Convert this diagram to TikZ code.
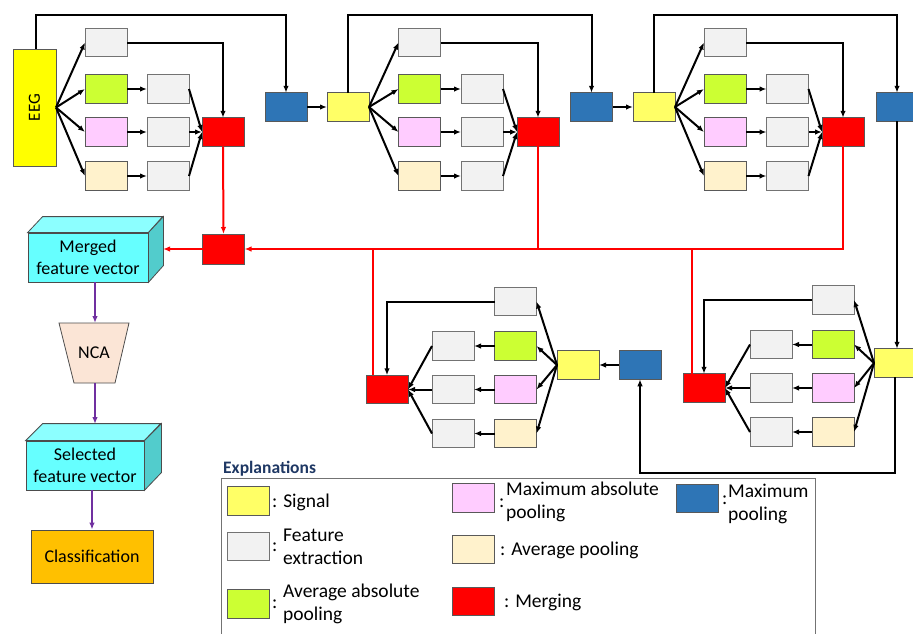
\documentclass[tikz,border=0pt]{standalone}
\usepackage{fontspec}
\setmainfont{Carlito}
\usetikzlibrary{arrows.meta}
\definecolor{sigY}{HTML}{FFFF66}
\definecolor{eegY}{HTML}{FFFF00}
\definecolor{feG}{HTML}{F2F2F2}
\definecolor{aapG}{HTML}{CCFF33}
\definecolor{mapP}{HTML}{FFCCFF}
\definecolor{apB}{HTML}{FFF2CC}
\definecolor{mpB}{HTML}{2E75B6}
\definecolor{mrgR}{HTML}{FF0000}
\definecolor{cyF}{HTML}{66FFFF}
\definecolor{cyT}{HTML}{8CFFFF}
\definecolor{cyS}{HTML}{52CCCC}
\definecolor{ncaC}{HTML}{FBE5D6}
\definecolor{clsC}{HTML}{FFC000}
\definecolor{purp}{HTML}{7030A0}
\definecolor{navy}{HTML}{1F3864}
\tikzset{
  bx/.style={draw=black!65, line width=0.8pt, minimum width=42pt, minimum height=28.5pt, inner sep=0pt, outer sep=0pt},
  sig/.style={bx, fill=sigY},
  fe/.style={bx, fill=feG, draw=black!55},
  aap/.style={bx, fill=aapG},
  map/.style={bx, fill=mapP},
  ap/.style={bx, fill=apB},
  mrg/.style={bx, fill=mrgR},
  mp/.style={bx, fill=mpB},
  conn/.style={line width=2pt, black, -{Latex[length=7pt,width=5.5pt]}},
  rline/.style={line width=2pt, mrgR},
  rconn/.style={rline, -{Latex[length=7pt,width=5.5pt]}},
  pconn/.style={line width=2pt, purp, -{Latex[length=7pt,width=5.5pt]}},
  txt/.style={font=\fontsize{18}{22}\selectfont, inner sep=0pt},
  ltxt/.style={font=\fontsize{19.5}{23}\selectfont, inner sep=0pt, anchor=base west},
  cub/.style={draw=black!70, line width=0.8pt},
}
% forward block: #1 prefix, #2 col1 x, #3 col2 x, #4 merge x
\newcommand{\fwdblock}[4]{%
  \node[fe]  (#1a0) at (#2,42.5) {};
  \node[aap] (#1a1) at (#2,89) {};
  \node[map] (#1a2) at (#2,132) {};
  \node[ap]  (#1a3) at (#2,176) {};
  \node[fe]  (#1b1) at (#3,89) {};
  \node[fe]  (#1b2) at (#3,132) {};
  \node[fe]  (#1b3) at (#3,176) {};
  \node[mrg] (#1m)  at (#4,132) {};
  \foreach \k in {1,2,3} {
    \draw[conn] (#1a\k.east) -- (#1b\k.west);
    \draw[conn] (#1b\k.east) -- (#1m.west);
  }
  \draw[conn] (#1a0.east) -| (#1m.north);
}
% backward block: #1 prefix, #2 col1 x, #3 col2 x, #4 merge x, #5 first row y
\newcommand{\bwdblock}[5]{%
  \node[fe]  (#1a0) at (#2,#5) {};
  \node[aap] (#1a1) at (#2,#5+44.5) {};
  \node[map] (#1a2) at (#2,#5+88) {};
  \node[ap]  (#1a3) at (#2,#5+132) {};
  \node[fe]  (#1b1) at (#3,#5+44.5) {};
  \node[fe]  (#1b2) at (#3,#5+88) {};
  \node[fe]  (#1b3) at (#3,#5+132) {};
  \node[mrg] (#1m)  at (#4,#5+88) {};
  \foreach \k in {1,2,3} {
    \draw[conn] (#1a\k.west) -- (#1b\k.east);
    \draw[conn] (#1b\k.west) -- (#1m.east);
  }
  \draw[conn] (#1a0.west) -| (#1m.north);
}
\begin{document}
\begin{tikzpicture}[x=1pt,y=-1pt]
\useasboundingbox (0,0) rectangle (913,633);
\coordinate (topline) at (0,15);
\coordinate (loopline) at (0,473);

% ---------- top row ----------
\node[bx, fill=eegY, minimum width=43pt, minimum height=117pt] (eeg) at (34.5,107.5) {};
\node[txt, font=\fontsize{17}{20}\selectfont, rotate=90] (eegt) at (eeg.center) {EEG};
\fwdblock{A}{106}{168}{223}
\node[mp] (blue1) at (286,107) {};
\foreach \k in {0,...,3} {\draw[conn] (eeg.east) -- (Aa\k.west);}
\draw[conn] ([xshift=1.5pt]eeg.north) -- ([xshift=1.5pt]eeg.north |- topline) -| (blue1.north);

\node[sig] (sig2) at (348,107) {};
\fwdblock{B}{419.5}{482}{538}
\node[mp] (blue2) at (591.5,107) {};
\draw[conn] (blue1.east) -- (sig2.west);
\foreach \k in {0,...,3} {\draw[conn] (sig2.east) -- (Ba\k.west);}
\draw[conn] (sig2.north) -- (sig2.north |- topline) -| (blue2.north);

\node[sig] (sig3) at (654,107) {};
\fwdblock{C}{725}{787.5}{843}
\node[mp] (blue3) at (897,107) {};
\draw[conn] (blue2.east) -- (sig3.west);
\foreach \k in {0,...,3} {\draw[conn] (sig3.east) -- (Ca\k.west);}
\draw[conn] (sig3.north) -- (sig3.north |- topline) -| (blue3.north);

% ---------- bottom blocks ----------
\node[mp] (blue4) at (640,365) {};
\node[sig] (sig4) at (578,365) {};
\bwdblock{D}{515.5}{453}{387}{301.5}
\draw[conn] (blue4.west) -- (sig4.east);
\foreach \k in {0,...,3} {\draw[conn] (sig4.west) -- (Da\k.east);}

\node[sig] (sig5) at (895,363) {};
\bwdblock{E}{833}{771}{704}{300}
\foreach \k in {0,...,3} {\draw[conn] (sig5.west) -- (Ea\k.east);}
\draw[conn] (blue3.south) -- (blue3.south |- sig5.north);
\draw[conn] (sig5.south) -- (sig5.south |- loopline) -| (blue4.south);

% ---------- red merging network ----------
\node[mrg, minimum height=30pt] (coll) at (223.5,249) {};
\draw[rconn] (Am.south) -- (coll.north);
\draw[rconn] (Cm.south) |- (coll.east);
\draw[rline] (Bm.south) -- (Bm.south |- coll.east);
\coordinate (d4) at ([xshift=7pt]Dm.north west);
\coordinate (e4) at ([xshift=9pt]Em.north west);
\draw[rline] (d4) -- (d4 |- coll.east);
\draw[rline] (e4) -- (e4 |- coll.east);

% ---------- left column ----------
\node[cub, fill=cyF, minimum width=120pt, minimum height=49pt, inner sep=0pt, align=center, font=\fontsize{18}{22}\selectfont] (mfv) at (88,257.5) {Merged\\feature vector};
\draw[cub, fill=cyT] (mfv.north west) -- ++(15,-16) -- ++(120,0) -- (mfv.north east) -- cycle;
\draw[cub, fill=cyS] (mfv.north east) -- ++(15,-16) -- ++(0,49) -- (mfv.south east) -- cycle;
\coordinate (mfvE) at (163,249);
\draw[rconn] (coll.west) -- (mfvE);

\draw[cub, fill=ncaC] (59,323) -- (129,323) -- (115,383) -- (74,383) -- cycle;
\node[txt] (nca) at (94,353) {NCA};
\coordinate (ncaT) at (95,323);
\coordinate (ncaB) at (95,383);
\draw[pconn] ([xshift=7pt]mfv.south) -- (ncaT);

\node[cub, fill=cyF, minimum width=118pt, minimum height=49pt, inner sep=0pt, align=center, font=\fontsize{18}{22}\selectfont] (sfv) at (85,465.5) {Selected\\feature vector};
\draw[cub, fill=cyT] (sfv.north west) -- ++(17,-17) -- ++(118,0) -- (sfv.north east) -- cycle;
\draw[cub, fill=cyS] (sfv.north east) -- ++(17,-17) -- ++(0,49) -- (sfv.south east) -- cycle;
\coordinate (sfvT) at (95,424);
\draw[pconn] (ncaB) -- (sfvT);

\node[cub, fill=clsC, minimum width=122pt, minimum height=53pt, font=\fontsize{18}{22}\selectfont] (cls) at (92,556.5) {Classification};
\draw[pconn] (cls.north |- sfv.south) -- (cls.north);

% ---------- legend ----------
\node[font=\fontsize{17.5}{20}\selectfont\bfseries, text=navy, inner sep=0pt, anchor=base west] (expl) at (223,473) {Explanations};
\draw[draw=black!55, line width=0.8pt] (221,478) rectangle (815,645);
\node[sig] (Ly) at (248,501) {};
\node[fe]  (Lg) at (248,546.5) {};
\node[aap] (Lgr) at (248,604) {};
\node[map] (Lp) at (473.5,498) {};
\node[ap]  (Lb) at (473.5,549.5) {};
\node[mrg] (Lr) at (473.5,601.5) {};
\node[mp]  (Lbl) at (697,498.5) {};
\node[ltxt] (ly) at (272,507) {: Signal};
\node[ltxt] (lgc) at (272,551) {:};
\node[ltxt] (lg1) at (283,541) {Feature};
\node[ltxt] (lg2) at (283,564) {extraction};
\node[ltxt] (lgrc) at (272,608) {:};
\node[ltxt] (lgr1) at (283,597) {Average absolute};
\node[ltxt] (lgr2) at (283,620) {pooling};
\node[ltxt] (lpc) at (499,507) {:};
\node[ltxt] (lp1) at (506,495) {Maximum absolute};
\node[ltxt] (lp2) at (506,518) {pooling};
\node[ltxt] (lb) at (500,555) {: Average pooling};
\node[ltxt] (lr) at (504,607) {: Merging};
\node[ltxt] (lblc) at (722,504) {:};
\node[ltxt] (lbl1) at (728,497) {Maximum};
\node[ltxt] (lbl2) at (728,520) {pooling};
\end{tikzpicture}
\end{document}
